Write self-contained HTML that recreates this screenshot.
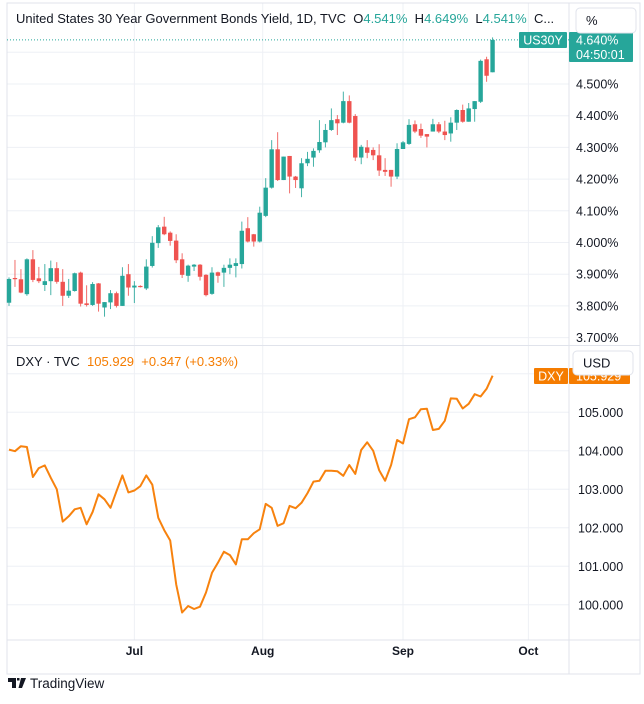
<!DOCTYPE html>
<html><head><meta charset="utf-8"><style>
html,body{margin:0;padding:0;background:#fff;}
body{width:644px;height:699px;overflow:hidden;font-family:"Liberation Sans",sans-serif;}
svg text{font-family:"Liberation Sans",sans-serif;}
</style></head><body>
<svg id="c" width="644" height="699" xmlns="http://www.w3.org/2000/svg"></svg>
<script>
// US30Y daily candles: open, high, low, close (%)
const opens=[3.81,3.888,3.884,3.837,3.947,3.887,3.866,3.878,3.919,3.876,3.832,3.847,3.905,3.808,3.803,3.871,3.795,3.811,3.840,3.80,3.90,3.858,3.863,3.855,3.926,3.998,4.05,4.031,4.006,3.947,3.895,3.924,3.93,3.898,3.838,3.906,3.905,3.92,3.926,3.932,4.045,4.026,4.003,4.084,4.173,4.294,4.197,4.273,4.208,4.171,4.25,4.268,4.291,4.316,4.355,4.389,4.378,4.446,4.399,4.268,4.30,4.292,4.275,4.229,4.229,4.208,4.295,4.311,4.373,4.358,4.342,4.35,4.373,4.35,4.344,4.378,4.418,4.381,4.421,4.444,4.578,4.537];
const highs=[3.89,3.945,3.916,3.95,3.976,3.923,3.932,3.943,3.938,3.916,3.885,3.905,3.908,3.865,3.875,3.872,3.812,3.85,3.845,3.922,3.932,3.878,3.865,3.947,4.02,4.055,4.081,4.035,4.026,3.966,3.93,3.932,3.932,3.9,3.922,3.908,3.93,3.95,3.95,4.066,4.08,4.027,4.113,4.203,4.323,4.348,4.271,4.273,4.21,4.266,4.286,4.297,4.386,4.374,4.423,4.402,4.476,4.464,4.405,4.308,4.323,4.30,4.31,4.266,4.229,4.313,4.32,4.389,4.385,4.375,4.342,4.39,4.38,4.384,4.395,4.42,4.435,4.44,4.446,4.577,4.586,4.647];
const lows=[3.80,3.86,3.84,3.832,3.875,3.872,3.847,3.834,3.87,3.80,3.825,3.845,3.798,3.798,3.80,3.782,3.766,3.79,3.795,3.80,3.832,3.809,3.858,3.85,3.921,3.983,4.023,3.99,3.935,3.888,3.876,3.91,3.88,3.83,3.835,3.873,3.86,3.90,3.89,3.918,4.0,3.987,4.0,4.08,4.17,4.194,4.197,4.155,4.172,4.143,4.241,4.239,4.283,4.30,4.352,4.339,4.376,4.376,4.257,4.247,4.266,4.26,4.21,4.21,4.176,4.2,4.295,4.308,4.345,4.33,4.30,4.35,4.345,4.323,4.318,4.355,4.378,4.381,4.381,4.44,4.507,4.537];
const closes=[3.885,3.885,3.842,3.947,3.882,3.878,3.878,3.919,3.876,3.832,3.848,3.903,3.807,3.803,3.869,3.807,3.812,3.840,3.80,3.895,3.858,3.864,3.86,3.924,3.999,4.048,4.026,4.005,3.944,3.898,3.927,3.93,3.892,3.834,3.905,3.895,3.92,3.93,3.935,4.037,4.003,4.003,4.094,4.173,4.294,4.197,4.271,4.208,4.197,4.25,4.264,4.289,4.317,4.355,4.386,4.376,4.446,4.378,4.268,4.302,4.283,4.275,4.227,4.223,4.208,4.295,4.316,4.371,4.35,4.337,4.334,4.373,4.35,4.339,4.378,4.418,4.381,4.423,4.446,4.573,4.526,4.639];
// DXY daily close
const dxy=[104.03,103.99,104.12,104.10,103.32,103.55,103.62,103.30,103.0,102.16,102.30,102.48,102.52,102.09,102.41,102.87,102.74,102.52,102.95,103.36,102.92,102.97,103.08,103.36,103.12,102.26,101.94,101.67,100.53,99.80,99.97,99.89,99.95,100.32,100.83,101.09,101.38,101.29,101.05,101.70,101.70,101.86,101.96,102.62,102.52,102.05,102.12,102.57,102.51,102.65,102.90,103.20,103.22,103.48,103.48,103.47,103.35,103.63,103.40,104.02,104.22,104.0,103.50,103.22,103.63,104.28,104.19,104.82,104.87,105.08,105.09,104.54,104.57,104.78,105.36,105.35,105.10,105.22,105.47,105.41,105.61,105.95];
const yTicks=[3.7,3.8,3.9,4.0,4.1,4.2,4.3,4.4,4.5];
const dTicks=[100,101,102,103,104,105];
const months=["Jul","Aug","Sep","Oct"];
const monthIdx=[21,42.5,66,87];
const lastPriceText="4.640%";

const svg=document.getElementById('c');
const NS='http://www.w3.org/2000/svg';
function mk(t,a,parent){const e=document.createElementNS(NS,t);for(const k in a)e.setAttribute(k,a[k]);(parent||svg).appendChild(e);return e;}
const xS=i=>9+5.97*i;
const yT=p=>84+(4.5-p)*317;
const yD=v=>412.3+(105-v)*38.5;
const GREEN='#26a69a',RED='#ef5350',ORANGE='#f7820e',GRID='#eef0f5';

const grid=mk('g',{});


yTicks.concat([4.6]).forEach(t=>{const y=yT(t);mk('line',{x1:7,x2:569,y1:y,y2:y,stroke:GRID,'stroke-width':1},grid);});
dTicks.concat([106]).forEach(t=>{const y=yD(t);mk('line',{x1:7,x2:569,y1:y,y2:y,stroke:GRID},grid);});
monthIdx.forEach(m=>{const x=xS(m);mk('line',{x1:x,x2:x,y1:3,y2:640,stroke:GRID},grid);});

const fr=mk('g',{});


mk('rect',{x:7,y:3,width:633,height:671,fill:'none',stroke:'#e0e3eb'},fr);
mk('line',{x1:569,x2:569,y1:3,y2:674,stroke:'#e0e3eb'},fr);
mk('line',{x1:7,x2:640,y1:345.5,y2:345.5,stroke:'#e0e3eb'},fr);
mk('line',{x1:7,x2:640,y1:640,y2:640,stroke:'#e0e3eb'},fr);

const cg=mk('g',{});


opens.forEach((o,i)=>{
  const c=closes[i],col=c>=o?GREEN:RED,x=xS(i);
  const g=mk('g',{},cg);
  
  
  mk('line',{x1:x,x2:x,y1:yT(highs[i]),y2:yT(lows[i]),stroke:col,'stroke-width':1,opacity:0.85},g);
  const top=yT(Math.max(o,c)),bot=yT(Math.min(o,c));
  mk('rect',{x:x-2.2,y:top,width:4.4,height:Math.max(1.2,bot-top),fill:col},g);
});
const lp=closes[closes.length-1];
const dl=mk('line',{x1:7,x2:569,y1:yT(lp),y2:yT(lp),stroke:GREEN,'stroke-width':1,'stroke-dasharray':'1 2'});



const pts=dxy.map((v,i)=>xS(i).toFixed(1)+','+yD(v).toFixed(1)).join(' ');
const pl=mk('polyline',{points:pts,fill:'none',stroke:ORANGE,'stroke-width':2,'stroke-linejoin':'round'});



function txt(s,x,y,opt,name){const e=mk('text',Object.assign({x:x,y:y,'font-size':12.5,fill:'#131722'},opt||{}));e.textContent=s;return e;}
yTicks.forEach(t=>txt(t.toFixed(3)+'%',576,yT(t)+4.5,{},'y-tick-label'));
dTicks.forEach(t=>txt(t.toFixed(3),578,yD(t)+4.5,{},'dxy-tick-label'));
months.forEach((m,k)=>txt(m,xS(monthIdx[k]),655,{'text-anchor':'middle','font-weight':'bold','font-size':12},'x-tick-label'));

const pl1=mk('g',{});


mk('rect',{x:519,y:32,width:48,height:16,rx:1,fill:GREEN},pl1);
txt('US30Y',543,44.5,{fill:'#fff','text-anchor':'middle','font-size':12.5},'series-tag');
mk('rect',{x:569,y:32,width:64,height:30,rx:1,fill:GREEN},pl1);
txt(lastPriceText,576,44.5,{fill:'#fff','font-size':12.5},'last-price');
txt('04:50:01',576,59,{fill:'#fff','font-size':12.5},'countdown');

const pl2=mk('g',{});


mk('rect',{x:534,y:368,width:34,height:16,rx:1,fill:'#f57c00'},pl2);
txt('DXY',551,380.5,{fill:'#fff','text-anchor':'middle','font-size':12.5},'dxy-tag');
mk('rect',{x:569,y:368,width:61,height:16,rx:1,fill:'#f57c00'},pl2);
txt('105.929',576,380.5,{fill:'#fff','font-size':12.5},'dxy-last-price');

const ub=mk('rect',{x:576,y:8,width:60,height:25,rx:4,fill:'#fff',stroke:'#e0e3eb'});


txt('%',586,25,{'font-size':13},'percent-unit-text');
const ub2=mk('rect',{x:573,y:351,width:60,height:24,rx:4,fill:'#fff',stroke:'#e0e3eb'});


txt('USD',583,367.5,{'font-size':13},'usd-unit-text');

const lg=mk('text',{x:16,y:23,'font-size':13,fill:'#131722'});


lg.innerHTML='United States 30 Year Government Bonds Yield, 1D, TVC&#160;&#160;O<tspan fill="#26a69a">4.541%</tspan>&#160;&#160;H<tspan fill="#26a69a">4.649%</tspan>&#160;&#160;L<tspan fill="#26a69a">4.541%</tspan>&#160;&#160;C...';
const lg2=mk('text',{x:16,y:366,'font-size':13,fill:'#131722'});


lg2.innerHTML='DXY · TVC&#160;&#160;<tspan fill="#f57c00">105.929&#160;&#160;+0.347&#160;(+0.33%)</tspan>';

const logo=mk('g',{});


mk('path',{d:'M8 678h8v10h-4v-6h-4z M17 678h2.5v2.5h-2.5z M21 678h5l-4 10h-3.5z',fill:'#131722'},logo);
txt('TradingView',30,688,{'font-size':13.5},'tradingview-wordmark');
</script>
</body></html>
